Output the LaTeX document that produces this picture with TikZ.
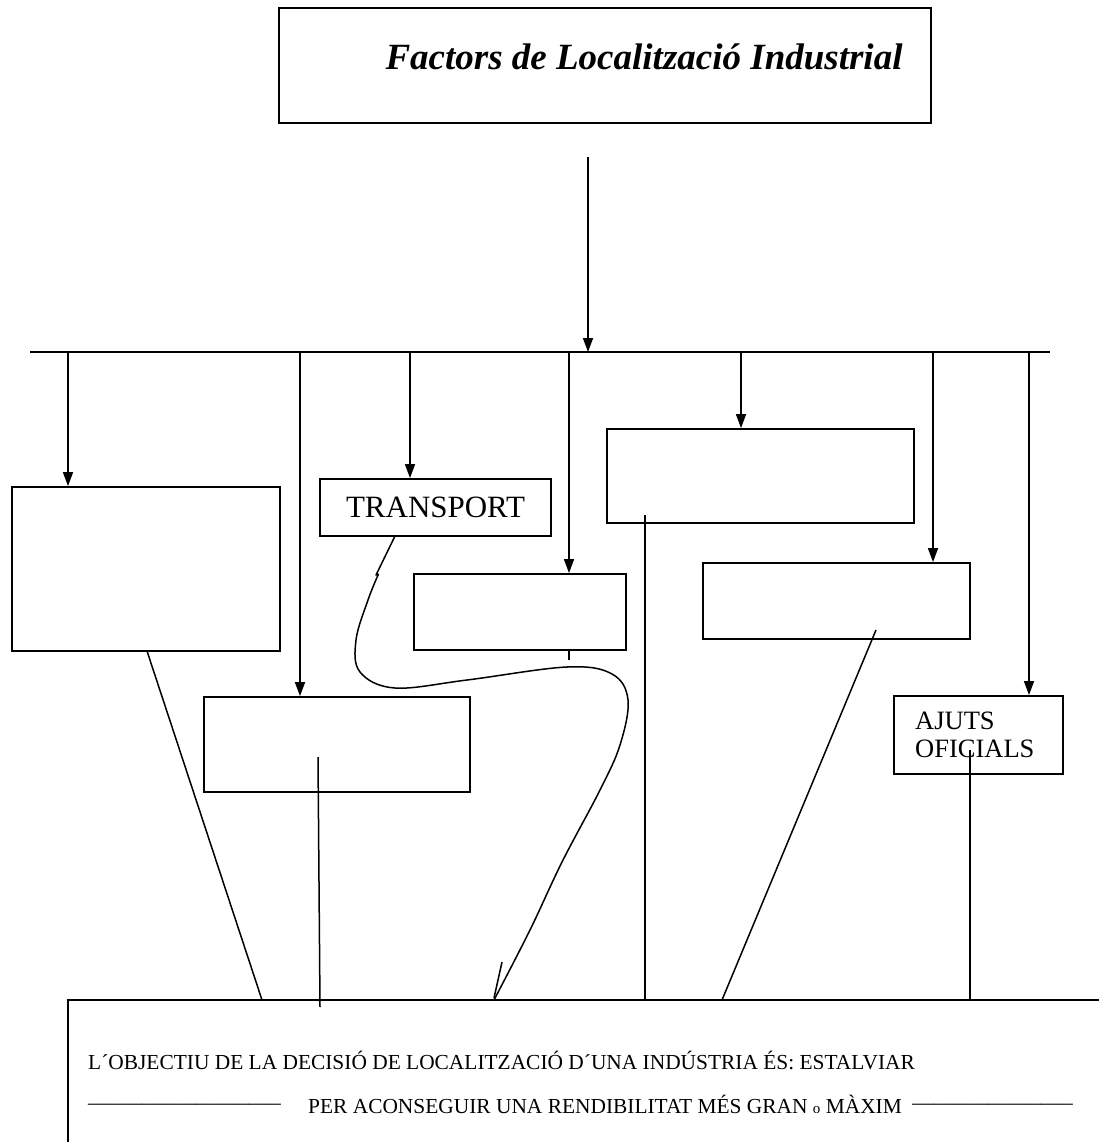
\documentclass[tikz,border=0pt]{standalone}
\usepackage{fontspec}
\setmainfont{Liberation Serif}
\usetikzlibrary{arrows.meta}
\begin{document}
\begin{tikzpicture}[x=1pt,y=-1pt,
  frame/.style={draw, line width=1.8pt, inner sep=0pt},
  arr/.style={line width=1.6pt, -{Triangle[length=14pt,width=10pt]}},
  ln/.style={line width=1.5pt},
  txt/.style={inner sep=0pt},
  bodytxt/.style={inner sep=0pt, font=\fontsize{21.4}{24}\selectfont}]
\useasboundingbox[fill=white] (0,0) rectangle (1098,1142);
% title
\node[frame, minimum width=652pt, minimum height=115pt] (title) at (605,65.5) {};
\node[txt, font=\fontsize{37}{42}\selectfont\bfseries\itshape] (ttext) at (644,57) {Factors de Localització Industrial};
% bus
\coordinate (busL) at (30,352);
\coordinate (busR) at (1050,352);
\draw[line width=2pt] (busL) -- (busR);
\coordinate (tA) at (588,157);
\coordinate (tB) at (588,352);
\draw[arr] (tA) -- (tB);
% boxes
\node[frame, minimum width=268pt, minimum height=164pt] (b1) at (146,569) {};
\node[frame, minimum width=266pt, minimum height=95pt] (b2) at (337,744.5) {};
\node[frame, minimum width=231pt, minimum height=57pt, font=\fontsize{31}{36}\selectfont] (tr) at (435.5,507.5) {TRANSPORT};
\node[frame, minimum width=212pt, minimum height=76pt] (b4) at (520,612) {};
\node[frame, minimum width=307pt, minimum height=94pt] (b5) at (760.5,476) {};
\node[frame, minimum width=267pt, minimum height=76pt] (b6) at (836.5,601) {};
\node[frame, minimum width=169pt, minimum height=78pt] (aj) at (978.5,735) {};
\node[txt, anchor=west, align=left, font=\fontsize{26.5}{28}\selectfont] (ajt) at (915,735) {AJUTS\\OFICIALS};
% arrows from bus
\foreach \x/\n in {68/b1,300/b2,410/tr,569/b4,741/b5,933/b6,1029/aj}{
  \coordinate (s\n) at (\x,352);
  \draw[arr] (s\n) -- (s\n |- \n.north);
}
% bottom box
\coordinate (bbL) at (68,1000);
\coordinate (bbR) at (1100,1000);
\coordinate (bbB) at (68,1144);
\draw[line width=2pt] (bbR) -- (bbL) -- (bbB);
\node[bodytxt, anchor=west] (l1) at (88,1060) {L´OBJECTIU DE LA DECISIÓ DE LOCALITZACIÓ D´UNA INDÚSTRIA ÉS: ESTALVIAR};
\node[bodytxt, anchor=west] (u1) at (88,1104) {\_\_\_\_\_\_\_\_\_\_\_\_\_\_\_\_\_\_};
\node[bodytxt, anchor=west] (l2) at (308,1104) {PER ACONSEGUIR UNA RENDIBILITAT MÉS GRAN {\fontsize{15}{16}\selectfont o} MÀXIM};
\node[bodytxt, anchor=east] (u2) at (1073,1104) {\_\_\_\_\_\_\_\_\_\_\_\_\_\_\_};
% connectors to bottom box
\coordinate (c1a) at (147,651);  \coordinate (c1b) at (262,1000);
\draw[ln] (c1a) -- (c1b);
\coordinate (c2a) at (318,757);  \coordinate (c2b) at (320,1007);
\draw[ln] (c2a) -- (c2b);
\coordinate (c4a) at (569,650);  \coordinate (c4b) at (569,660);
\draw[ln] (c4a) -- (c4b);
\coordinate (c5a) at (645,515);  \coordinate (c5b) at (645,1000);
\draw[ln] (c5a) -- (c5b);
\coordinate (c6a) at (876,630);  \coordinate (c6b) at (722,1000);
\draw[ln] (c6a) -- (c6b);
\coordinate (c7a) at (970,750);  \coordinate (c7b) at (970,1000);
\draw[ln] (c7a) -- (c7b);
% transport curve
\coordinate (ct0) at (395,536);
\coordinate (ctE) at (494,1000);
\draw[ln, line join=round] (ct0) -- (377.5,572) -- (376,575) -- (378.5,574)
  plot[smooth, tension=0.6] coordinates {(378.5,574) (368,600) (356,640) (360,672) (395,688) (467,680) (567,667) (612,674) (628,700) (620,745) (600,790) (562,862) (530,930) (ctE)};
\draw[ln] (502,962) -- (494,998);
\end{tikzpicture}
\end{document}
